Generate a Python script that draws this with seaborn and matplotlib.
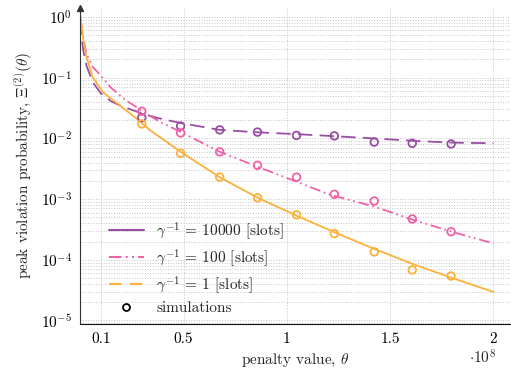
import numpy as np
import pandas as pd
import matplotlib
matplotlib.use('Agg')
import matplotlib.pyplot as plt
from matplotlib.lines import Line2D
import seaborn as sns

# penalty value theta, in units of 1e8
sim_x = [0.298, 0.486, 0.675, 0.858, 1.047, 1.230, 1.423, 1.607, 1.795]

# simulation points
sim_10000 = [0.022, 0.016, 0.0138, 0.0127, 0.0112, 0.011, 0.0087, 0.0083, 0.0081]
sim_100 = [0.028, 0.0123, 0.006, 0.0036, 0.0023, 0.0012, 0.00093, 0.00047, 0.00029]
sim_1 = [0.0173, 0.0057, 0.0023, 0.00105, 0.00055, 0.00027, 0.000135, 0.000068, 0.000054]

# analytic curves (log10 of probability)
x_10000 = [0.0, 0.005, 0.015, 0.03, 0.06, 0.1, 0.15, 0.2, 0.25, 0.3, 0.37, 0.49,
           0.675, 0.86, 1.045, 1.21, 1.42, 1.61, 1.8, 2.0]
lg_10000 = [-0.05, -0.3, -0.55, -0.8, -1.07, -1.26, -1.39, -1.47, -1.53, -1.59, -1.66, -1.75,
            -1.86, -1.90, -1.93, -1.96, -2.0, -2.04, -2.07, -2.08]

x_100 = [0.0, 0.005, 0.015, 0.03, 0.06, 0.09, 0.15, 0.22, 0.27, 0.3, 0.4, 0.49,
         0.675, 0.86, 1.045, 1.21, 1.42, 1.61, 1.8, 2.0]
lg_100 = [0.0, -0.12, -0.35, -0.6, -0.82, -0.93, -1.17, -1.37, -1.48, -1.56, -1.75, -1.9,
          -2.22, -2.47, -2.71, -2.93, -3.12, -3.34, -3.54, -3.73]

x_1 = [0.0, 0.003, 0.015, 0.03, 0.06, 0.11, 0.2, 0.29, 0.336, 0.49, 0.675, 0.86,
       1.045, 1.24, 1.43, 1.61, 1.8, 2.0]
lg_1 = [0.0, -0.05, -0.38, -0.66, -0.99, -1.24, -1.48, -1.72, -1.86, -2.23, -2.64, -2.98,
        -3.27, -3.56, -3.83, -4.07, -4.30, -4.53]

labels = [r'$\gamma^{-1}$ = 10000 [slots]', r'$\gamma^{-1}$ = 100 [slots]', r'$\gamma^{-1}$ = 1 [slots]']
colors = ['#984ea3', '#f062a8', '#fbb13c']

sns.set_style('white')
plt.rcParams['font.family'] = ['cmr10', 'DejaVu Serif']
plt.rcParams['mathtext.fontset'] = 'cm'
plt.rcParams['axes.unicode_minus'] = False
plt.rcParams['axes.formatter.use_mathtext'] = True

fig, ax = plt.subplots(figsize=(5.11, 3.76), dpi=100)
fig.subplots_adjust(left=0.157, right=0.998, bottom=0.138, top=0.979)

curves = [(x_10000, lg_10000, (8, 4)), (x_100, lg_100, (6, 2, 1, 2, 1, 2)), (x_1, lg_1, '')]
for (xs, lg, dash), col in zip(curves, colors):
    d = pd.DataFrame({'x': xs, 'y': 10 ** np.array(lg)})
    sns.lineplot(data=d, x='x', y='y', ax=ax, color=col, lw=1.3)
    if dash:
        ax.lines[-1].set_dashes(dash)

for ys, col in zip([sim_10000, sim_100, sim_1], colors):
    d = pd.DataFrame({'x': sim_x, 'y': ys})
    sns.scatterplot(data=d, x='x', y='y', ax=ax, marker='o', s=30,
                    facecolor='none', edgecolor=col, linewidth=1.3, zorder=3)

ax.set_yscale('log')
ax.set_xlim(0, 2.08)
ax.set_ylim(10 ** -5.06, 10 ** 0.15)
ax.set_xticks([0.1, 0.5, 1, 1.5, 2])
ax.set_xticklabels(['0.1', '0.5', '1', '1.5', '2'])
ax.set_yticks([10.0 ** k for k in range(-5, 1)])
ax.yaxis.set_minor_locator(matplotlib.ticker.LogLocator(base=10, subs=np.arange(2, 10)))
ax.yaxis.set_minor_formatter(matplotlib.ticker.NullFormatter())

ax.grid(True, which='major', axis='x', ls=':', color='#c4c4c4', lw=0.7)
ax.grid(True, which='both', axis='y', ls=':', color='#c4c4c4', lw=0.7)
ax.tick_params(axis='both', which='major', direction='inout', length=5, width=0.8,
               labelsize=11, colors='#333333', labelcolor='black')
ax.tick_params(axis='y', which='minor', direction='inout', length=3, width=0.6, colors='#333333')

sns.despine(ax=ax)
ax.spines['left'].set_color('#333333')
ax.spines['bottom'].set_color('#111111')
ax.plot(0, 1, marker='^', color='#333333', markersize=4, transform=ax.transAxes, clip_on=False)

ax.set_xlabel(r'penalty value, $\theta$', fontsize=11)
ax.set_ylabel(r'peak violation probability, $\Xi^{(2)}(\theta)$', fontsize=11)
ax.text(0.905, -0.105, r'$\cdot 10^8$', transform=ax.transAxes, fontsize=11, va='center', ha='left')

handles = [Line2D([], [], color=colors[0], lw=1.5),
           Line2D([], [], color=colors[1], lw=1.5, dashes=(6, 2, 1, 2, 1, 2)),
           Line2D([], [], color=colors[2], lw=1.5, dashes=(6, 4)),
           Line2D([], [], ls='', marker='o', markerfacecolor='none', markeredgecolor='black',
                  markeredgewidth=1.3, markersize=5)]
ax.legend(handles, labels + ['simulations'], loc='lower left', bbox_to_anchor=(0.045, 0.0),
          frameon=False, fontsize=11, handlelength=2.3, labelspacing=0.35, borderaxespad=0.2)

plt.savefig('out.png', dpi=100)
